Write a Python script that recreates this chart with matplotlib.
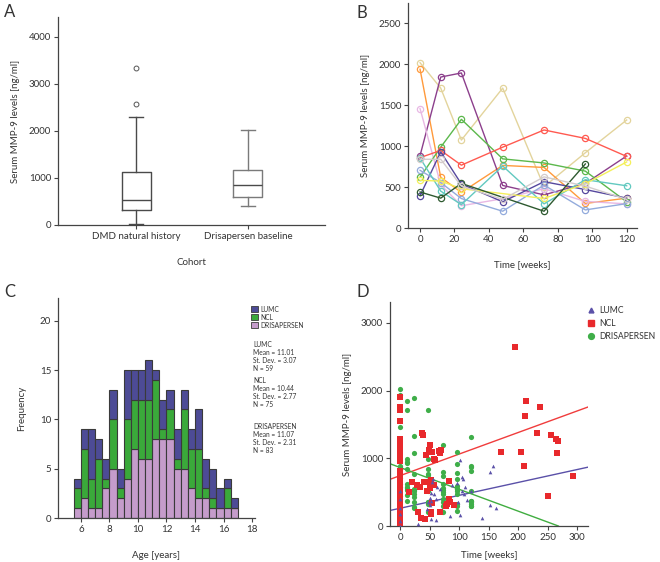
import numpy as np
import matplotlib

matplotlib.use("Agg")
import matplotlib.pyplot as plt
from matplotlib.patches import Patch
from matplotlib.lines import Line2D

plt.rcParams["font.family"] = ["Lato", "DejaVu Sans"]

# --- panel A: box plot summary ---
cohorts = ["DMD natural history", "Drisapersen baseline"]
whisker_lo = [20, 400]
q1 = [320, 600]
median = [540, 850]
q3 = [1120, 1170]
whisker_hi = [2290, 2020]
outliers = [[2580, 3330], []]

# --- panel B: MMP-9 per drisapersen patient over time ---
weeks = [0, 12, 24, 48, 72, 96, 120]
nan = np.nan
patient_levels = [
    [2020, 1710, 1075, 1710, 505, 920, 1320],   # tan
    [1940, 620, 435, 765, 740, 300, 365],       # orange
    [885, 1845, 1895, 520, 405, 545, 880],      # purple
    [1460, 530, 272, 358, 480, 325, 295],       # pink
    [620, 988, 1328, 845, 795, 695, 320],       # green
    [860, 948, 768, 988, 1198, 1095, 875],      # red
    [395, 930, 538, 320, 566, 470, 365],        # dark blue
    [705, 555, 360, 205, 525, 221, 298],        # light blue
    [855, 451, 285, 758, 295, 590, 516],        # teal
    [582, 574, 480, nan, 361, 541, 807],        # yellow
    [440, 365, 545, nan, 205, 783, nan],        # dark green
    [840, 840, 512, 350, 625, 512, 350],        # grey
]
patient_colors = ["#e3d49c", "#ff9a3c", "#8c3f8c", "#e8b8e4", "#5cb84c", "#ff5a50",
                  "#56489e", "#93abdc", "#62c9c0", "#f4ef5a", "#2e5a30", "#d4cccc"]

# --- panel C: age histogram, stacked per cohort ---
age_bins = np.arange(5.5, 17.0, 0.5)
drisa_counts = [1, 2, 1, 1, 3, 5, 2, 4, 7, 6, 6, 8, 8, 8, 5, 5, 3, 2, 2, 1, 1, 1, 1]
ncl_counts = [2, 5, 3, 5, 1, 5, 1, 6, 5, 6, 6, 6, 1, 3, 1, 6, 4, 5, 1, 1, 0, 2, 0]
lumc_counts = [1, 2, 5, 2, 2, 3, 2, 5, 3, 3, 4, 1, 3, 2, 3, 2, 2, 4, 3, 3, 2, 1, 1]
cohort_stats = [
    ("LUMC", 11.01, 3.07, 59),
    ("NCL", 10.44, 2.77, 75),
    ("DRISAPERSEN", 11.07, 2.31, 83),
]

# --- panel D: MMP-9 vs time, all cohorts ---
ncl_weeks = [0] * 23 + [15, 21, 28, 31, 33, 37, 38, 36, 40, 42, 44, 45, 47, 49, 50, 51, 52, 52, 53,
                        54, 54, 57, 58, 59, 66, 68, 67, 70, 77, 80, 82, 83, 85, 91,
                        171, 194, 205, 209, 212, 213, 231, 237, 250, 255, 264, 267, 266, 293]
ncl_mmp9 = [1900, 1760, 1720, 1550, 1280, 1240, 1200, 1150, 1100, 1040, 960, 820, 720, 650, 560,
            480, 400, 330, 270, 200, 140, 90, 40,
            500, 650, 600, 210, 570, 1380, 1350, 120, 650, 100, 1050, 520, 650, 1120, 560, 1200,
            680, 210, 170, 1100, 340, 990, 600, 970, 1110, 1080, 200, 1130, 290, 330, 670, 400,
            350, 310,
            1100, 2650, 1100, 890, 1620, 1840, 1380, 1760, 440, 1350, 1280, 1260, 1080, 740]
lumc_weeks = [0, 0, 0, 0, 0, 0, 31, 45, 48, 50, 51, 52, 53, 54, 55, 57, 61, 62, 67, 52, 60, 85,
              88, 96, 98, 101, 102, 104, 105, 106, 110, 109, 114, 120, 139, 152, 153, 158, 162]
lumc_mmp9 = [0, 80, 180, 270, 400, 520, 30, 250, 350, 420, 310, 100, 370, 650, 700, 470, 85, 570,
             540, 490, 400, 150, 600, 630, 350, 165, 975, 510, 730, 700, 570, 470, 385, 520, 125,
             800, 310, 880, 270]
fit_names = ["LUMC", "NCL", "DRISAPERSEN"]
fit_intercept = [262, 744, 865]
fit_slope = [1.91, 3.19, -3.23]

W, H = 660, 562
AX = "#444444"
TXT = "#333333"

fig = plt.figure(figsize=(W / 100, H / 100), dpi=100)


def add_axes(left, top, right, bottom):
    return fig.add_axes([left / W, 1 - bottom / H, (right - left) / W, (bottom - top) / H])


def style(ax):
    for side in ["top", "right"]:
        ax.spines[side].set_visible(False)
    for side in ["left", "bottom"]:
        ax.spines[side].set_color(AX)
        ax.spines[side].set_linewidth(0.9)
    ax.tick_params(labelsize=7, length=3, width=0.8, color=AX, labelcolor=TXT, pad=2)


# A
ax = add_axes(58, 17, 325, 225)
style(ax)
stats = [
    {"label": c, "whislo": whisker_lo[i], "q1": q1[i], "med": median[i], "q3": q3[i],
     "whishi": whisker_hi[i], "fliers": outliers[i]}
    for i, c in enumerate(cohorts)
]
bp = ax.bxp(stats, positions=[1, 2], widths=0.26, capwidths=0.12,
            flierprops=dict(marker="o", markersize=3.5, markerfacecolor="none",
                            markeredgecolor="#555555", markeredgewidth=0.7))
box_edge = ["#4a4a4a", "#7a7a7a"]
for i, col in enumerate(box_edge):
    bp["boxes"][i].set(color=col, linewidth=1)
    bp["medians"][i].set(color="#4a4a4a", linewidth=1)
    for part in ["whiskers", "caps"]:
        for ln in bp[part][2 * i:2 * i + 2]:
            ln.set(color=col, linewidth=1)
ax.set_xlim(0.30, 2.69)
ax.set_ylim(0, 4425)
ax.set_yticks([0, 1000, 2000, 3000, 4000])
ax.set_xlabel("Cohort", fontsize=7, color=TXT, labelpad=12)
ax.set_ylabel("Serum MMP-9 levels [ng/ml]", fontsize=7, color=TXT, labelpad=6)
fig.text(4 / W, 1 - 12 / H, "A", fontsize=12, color=TXT, va="center")

# B
ax = add_axes(408, 3, 637, 228)
style(ax)
for vals, col in zip(patient_levels, patient_colors):
    v = np.array(vals, dtype=float)
    x = np.array(weeks, dtype=float)
    keep = ~np.isnan(v)
    ax.plot(x[keep], v[keep], "-o", color=col, linewidth=1, markersize=4.5,
            markerfacecolor="none", markeredgewidth=0.9)
ax.set_xlim(-7, 126)
ax.set_ylim(0, 2750)
ax.set_xticks([0, 20, 40, 60, 80, 100, 120])
ax.set_yticks([0, 500, 1000, 1500, 2000, 2500])
ax.set_xlabel("Time [weeks]", fontsize=7, color=TXT, labelpad=12)
ax.set_ylabel("Serum MMP-9 levels [ng/ml]", fontsize=7, color=TXT, labelpad=6)
fig.text(357 / W, 1 - 13 / H, "B", fontsize=12, color=TXT, va="center")

# C
ax = add_axes(58, 298, 255, 518)
style(ax)
c_colors = {"LUMC": "#4d4b96", "NCL": "#3aa93a", "DRISAPERSEN": "#c59ccb"}
d = np.array(drisa_counts)
n = np.array(ncl_counts)
lu = np.array(lumc_counts)
bar_kw = dict(width=0.5, align="edge", edgecolor="#3a3a3a", linewidth=0.8)
ax.bar(age_bins, d, color=c_colors["DRISAPERSEN"], **bar_kw)
ax.bar(age_bins, n, bottom=d, color=c_colors["NCL"], **bar_kw)
ax.bar(age_bins, lu, bottom=d + n, color=c_colors["LUMC"], **bar_kw)
ax.set_xlim(4.4, 18.2)
ax.set_ylim(0, 22.3)
ax.set_xticks([6, 8, 10, 12, 14, 16, 18])
ax.set_yticks([0, 5, 10, 15, 20])
ax.set_xlabel("Age [years]", fontsize=7, color=TXT, labelpad=12)
ax.set_ylabel("Frequency", fontsize=7, color=TXT, labelpad=10)
handles = [Patch(facecolor=c_colors[k], edgecolor="#3a3a3a", linewidth=0.6, label=k)
           for k in ["LUMC", "NCL", "DRISAPERSEN"]]
ax.legend(handles=handles, loc="upper left", bbox_to_anchor=(0.98, 0.965), frameon=False,
          fontsize=4.8, handlelength=1.0, handleheight=1.0, handletextpad=0.4,
          labelspacing=0.15, borderaxespad=0, borderpad=0, labelcolor=TXT)
stat_y = [0.805, 0.64, 0.43]
for (name, mean, sd, cnt), yy in zip(cohort_stats, stat_y):
    ax.text(0.99, yy, f"{name}\nMean = {mean:.2f}\nSt. Dev. = {sd:.2f}\nN = {cnt}",
            transform=ax.transAxes, fontsize=4.8, color=TXT, va="top", ha="left",
            linespacing=1.15)
fig.text(4 / W, 1 - 292 / H, "C", fontsize=12, color=TXT, va="center")

# D
ax = add_axes(390, 302, 588, 526)
style(ax)
drisa_weeks = [w for vals in patient_levels for w, v in zip(weeks, vals) if not np.isnan(v)]
drisa_mmp9 = [v for vals in patient_levels for v in vals if not np.isnan(v)]
fit_colors = ["#5a50a8", "#f03c3c", "#40ad40"]
ax.scatter(drisa_weeks, drisa_mmp9, s=14, marker="o", color="#3fae49", linewidths=0, zorder=3)
ax.scatter(ncl_weeks, ncl_mmp9, s=14, marker="s", color="#e8292c", linewidths=0, zorder=3)
ax.scatter(lumc_weeks, lumc_mmp9, s=7, marker="^", color="#5b51a8", linewidths=0, zorder=4)
for b0, m, col in zip(fit_intercept, fit_slope, fit_colors):
    ax.axline((0, b0), slope=m, color=col, linewidth=1, zorder=2)
ax.set_xlim(-17, 318)
ax.set_ylim(0, 3310)
ax.set_xticks([0, 50, 100, 150, 200, 250, 300])
ax.set_yticks([0, 1000, 2000, 3000])
ax.set_xlabel("Time [weeks]", fontsize=7, color=TXT, labelpad=6)
ax.set_ylabel("Serum MMP-9 levels [ng/ml]", fontsize=7, color=TXT, labelpad=6)
leg_handles = [
    Line2D([], [], marker="^", linestyle="none", color="#5b51a8", markersize=3.5, label="LUMC"),
    Line2D([], [], marker="s", linestyle="none", color="#e8292c", markersize=4.2, label="NCL"),
    Line2D([], [], marker="o", linestyle="none", color="#3fae49", markersize=4.2, label="DRISAPERSEN"),
]
ax.legend(handles=leg_handles, loc="upper left", bbox_to_anchor=(1.0, 0.98), frameon=False,
          fontsize=6.2, handlelength=0.8, handletextpad=0.5, labelspacing=0.45,
          borderaxespad=0, borderpad=0, labelcolor=TXT)
fig.text(357 / W, 1 - 292 / H, "D", fontsize=12, color=TXT, va="center")

fig.savefig("out.png", dpi=100)
